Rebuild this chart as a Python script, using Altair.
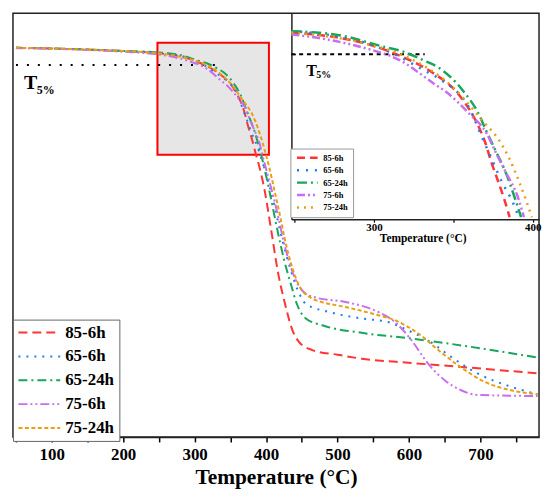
import altair as alt
import pandas as pd

# ---------------- data ----------------
series_names = ["85-6h", "65-6h", "65-24h", "75-6h", "75-24h"]
series_colors = ["#FF3535", "#1E7CF5", "#17A65B", "#C86EF0", "#E8A012"]

red_T = [50, 100, 150, 200, 248, 280, 298, 314, 326, 337, 354, 366, 370, 374, 378, 382, 385.5,
         388.4, 397.6, 406.9, 417, 425.4, 437, 446, 464.7, 500, 534, 603.6, 673, 780]
red_W = [99.8, 99.6, 99.3, 98.9, 98.3, 97.4, 96.4, 95.0, 93.7, 92.2, 88.7, 84.0, 81.7, 78.6, 75.9, 73.1, 70.3,
         68.3, 60.5, 49.4, 36.9, 29.4, 21.1, 17.9, 15.6, 14.3, 13.2, 12.0, 10.9, 9.1]

blue_T = [50, 100, 150, 200, 248, 295, 313, 332, 341, 362, 367.5, 372.8, 381.1, 387.4, 391.2,
          409, 423, 434.7, 445, 455.6, 488, 534, 571, 603.6, 626.8, 659, 696, 742.5, 780]
blue_W = [99.8, 99.6, 99.3, 98.9, 98.5, 96.7, 95.0, 92.5, 91.3, 85.9, 82.7, 79.9, 75.4, 72.6, 70.3,
          58.1, 46.1, 37.8, 32.0, 28.5, 26.2, 24.4, 23.4, 20.6, 18.3, 13.7, 9.1, 5.4, 3.3]

green_T = [50, 100, 150, 200, 248, 280, 305, 317, 332, 340.5, 356, 366.5, 370.7, 377, 383.3, 388.5, 392.7,
           404.6, 416, 425.4, 434.7, 443, 455.6, 478.6, 534, 603.6, 673, 780]
green_W = [99.8, 99.6, 99.3, 98.9, 98.5, 97.8, 96.2, 95.5, 94.0, 93.0, 89.5, 85.7, 83.4, 80.2, 76.9, 73.4, 70.3,
           60.0, 48.9, 40.6, 34.0, 28.5, 24.4, 22.5, 20.4, 18.8, 16.9, 13.5]

purple_T = [50, 100, 150, 200, 248, 269, 290, 317, 338, 345.4, 360, 371, 377, 383.3, 390.6, 394.5,
            413.9, 427.8, 443.9, 455.6, 470, 511, 557, 580.5, 603.6, 626.8, 650, 673, 696, 780]
purple_W = [99.7, 99.5, 99.2, 98.7, 98.0, 97.3, 96.2, 94.0, 90.5, 89.3, 86.0, 83.0, 80.0, 77.0, 73.4, 70.3,
            55.4, 43.3, 34.1, 31.3, 30.2, 29.0, 26.2, 23.4, 18.3, 11.8, 7.2, 4.4, 3.1, 2.8]

orange_T = [50, 100, 150, 200, 248, 293, 321.6, 349.7, 368.5, 379, 385.3, 391.6, 395.8, 399.5,
            416, 430, 445, 464.7, 474, 511, 557, 580.5, 613, 641, 668.5, 705.5, 742.5, 780]
orange_W = [99.8, 99.6, 99.3, 98.9, 98.3, 96.7, 94.5, 90.0, 84.9, 81.9, 79.2, 75.6, 72.9, 70.3,
            56.3, 43.3, 34.1, 29.9, 29.2, 27.6, 25.3, 23.9, 20.2, 15.6, 11.4, 6.8, 4.4, 3.3]

main_T_domain = [45.8, 782]
main_W_domain = [-8.6, 109.4]
zoom_T = [248, 404]          # zoomed region (red box / inset)
zoom_W = [70, 101.2]
t5_level = 95
t5_range = [50, 332]
main_ticks = list(range(50, 751, 50))
inset_ticks = [250, 300, 350, 400]
x_title = "Temperature (°C)"

# ---------------- layout constants ----------------
PW, PH = 529, 426             # plot area
INSET_X0 = 280                # inset left edge (px within plot)
INSET_H = 207                 # inset height (px from top)
FONT = "Liberation Serif"

rows = []
for name, ts, ws in zip(series_names,
                        [red_T, blue_T, green_T, purple_T, orange_T],
                        [red_W, blue_W, green_W, purple_W, orange_W]):
    for t, w in zip(ts, ws):
        rows.append({"series": name, "T": t, "W": w})
df = pd.DataFrame(rows)

box_df = pd.DataFrame({"T": [zoom_T[0]], "T2": [zoom_T[1]], "W": [zoom_W[0]], "W2": [zoom_W[1]]})
rule_main_df = pd.DataFrame({"T": [t5_range[0]], "T2": [t5_range[1]], "W": [t5_level]})
rule_inset_df = pd.DataFrame({"T": [max(t5_range[0], zoom_T[0])], "T2": [t5_range[1]], "W": [t5_level]})
lab_main_T = pd.DataFrame({"T": [61.1], "W": [88.35]})
lab_main_s = pd.DataFrame({"T": [79.2], "W": [86.96]})
lab_ins_T = pd.DataFrame({"T": [257.4], "W": [91.7]})
lab_ins_s = pd.DataFrame({"T": [263.7], "W": [91.36]})

dash_main = [[9, 5], [2, 6], [9, 4, 2, 4], [9, 3, 2, 3, 2, 3], [4, 2.5]]
dash_inset = [[8, 5], [2, 7], [10, 4, 2, 4], [8, 3, 2, 3, 2, 3], [2, 5]]

label_expr = "datum.value % 100 === 0 ? datum.label : ''"

# ---------------- main plot ----------------
x_main = alt.X("T:Q", title=x_title,
               scale=alt.Scale(domain=main_T_domain, nice=False, zero=False),
               axis=alt.Axis(values=main_ticks, labelExpr=label_expr, tickSize=5, tickWidth=1.5,
                             domainWidth=1.5, labelFontSize=17, labelPadding=18,
                             labelBaseline="alphabetic", titleFontSize=21.5,
                             titleBaseline="alphabetic", titleY=46.5, labelFlush=False,
                             labelOverlap=False, grid=False))
x2_main = alt.X2("T2")
y_main = alt.Y("W:Q", scale=alt.Scale(domain=main_W_domain, nice=False, zero=False), axis=None)
y2_main = alt.Y2("W2")

legend_main = alt.Legend(title=None, orient="none", legendX=0, legendY=308, symbolType="stroke",
                         symbolSize=1764, symbolStrokeWidth=2, clipHeight=17,
                         labelFont=FONT, labelFontSize=17,
                         labelFontWeight="bold", labelColor="black", labelOffset=4, rowPadding=6,
                         padding=4.5, strokeColor="#666666", fillColor="white", labelLimit=300)

box = alt.Chart(box_df).mark_rect(fill="#E6E6E6", stroke="#FF0000", strokeWidth=2).encode(
    x=x_main, x2=x2_main, y=y_main, y2=y2_main)
rule_main = alt.Chart(rule_main_df).mark_rule(color="black", strokeWidth=2, strokeDash=[2, 9]).encode(
    x=x_main, x2=x2_main, y=y_main)
txt_T = alt.Chart(lab_main_T).mark_text(text="T", font=FONT, fontSize=20, fontWeight="bold",
                                        align="left", baseline="alphabetic", color="black").encode(
    x=x_main, y=y_main)
txt_s = alt.Chart(lab_main_s).mark_text(text="5%", font=FONT, fontSize=12, fontWeight="bold",
                                        align="left", baseline="alphabetic", color="black").encode(
    x=x_main, y=y_main)
lines_main = alt.Chart(df).mark_line(strokeWidth=2, interpolate="monotone").encode(
    x=x_main, y=y_main,
    color=alt.Color("series:N", sort=series_names,
                    scale=alt.Scale(domain=series_names, range=series_colors), legend=legend_main),
    strokeDash=alt.StrokeDash("series:N", sort=series_names,
                              scale=alt.Scale(domain=series_names, range=dash_main), legend=legend_main),
)
main_layer = alt.layer(box, rule_main, txt_T, txt_s, lines_main)

# ---------------- inset ----------------
x_ins = alt.X("T:Q", title=x_title,
              scale=alt.Scale(domain=zoom_T, range=[INSET_X0, PW], nice=False, zero=False),
              axis=alt.Axis(orient="bottom", offset=-(PH - INSET_H), values=inset_ticks,
                            labelExpr=label_expr, tickSize=3, tickWidth=1.2, domainWidth=1.5,
                            labelFontSize=11, labelPadding=8, labelBaseline="alphabetic",
                            titleFontSize=11.5, titleBaseline="alphabetic", titleY=22, titleX=412,
                            labelFlush=False, labelOverlap=False, grid=False))
x2_ins = alt.X2("T2")
y_ins = alt.Y("W:Q", title=None,
              scale=alt.Scale(domain=zoom_W, range=[INSET_H, 0], nice=False, zero=False),
              axis=alt.Axis(orient="right", offset=INSET_X0 - PW, values=[t5_level], labels=False,
                            tickSize=4, tickWidth=1.2, domainWidth=1.5, grid=False))

legend_ins = alt.Legend(title=None, orient="none", legendX=279, legendY=136, symbolType="stroke",
                        symbolSize=430, symbolStrokeWidth=2.5, clipHeight=8.5,
                        labelFont=FONT, labelFontSize=8.5,
                        labelFontWeight="bold", labelColor="black", labelOffset=4, rowPadding=3.5,
                        padding=5, strokeColor="#999999", fillColor="white", labelLimit=200)

lines_ins = alt.Chart(df).mark_line(strokeWidth=2.5, interpolate="monotone").encode(
    x=x_ins, y=y_ins,
    color=alt.Color("series:N", sort=series_names,
                    scale=alt.Scale(domain=series_names, range=series_colors), legend=legend_ins),
    strokeDash=alt.StrokeDash("series:N", sort=series_names,
                              scale=alt.Scale(domain=series_names, range=dash_inset), legend=legend_ins),
).transform_filter(
    (alt.datum.T >= zoom_T[0]) & (alt.datum.T <= zoom_T[1]) & (alt.datum.W >= zoom_W[0])
)
rule_ins = alt.Chart(rule_inset_df).mark_rule(color="black", strokeWidth=2, strokeDash=[4, 3.8]).encode(
    x=x_ins, x2=x2_ins, y=y_ins)
itxt_T = alt.Chart(lab_ins_T).mark_text(text="T", font=FONT, fontSize=16, fontWeight="bold",
                                        align="left", baseline="alphabetic", color="black").encode(
    x=x_ins, y=y_ins)
itxt_s = alt.Chart(lab_ins_s).mark_text(text="5%", font=FONT, fontSize=10, fontWeight="bold",
                                        align="left", baseline="alphabetic", color="black").encode(
    x=x_ins, y=y_ins)
inset_layer = alt.layer(rule_ins, itxt_T, itxt_s, lines_ins)

chart = alt.layer(main_layer, inset_layer).resolve_scale(
    x="independent", y="independent", color="independent", strokeDash="independent"
).resolve_axis(
    x="independent", y="independent"
).resolve_legend(
    color="independent", strokeDash="independent"
).properties(
    width=PW, height=PH, padding={"left": 4, "top": 4, "right": 0, "bottom": 0}, background="white"
).configure_view(
    stroke="#222222", strokeWidth=1.5
).configure_axis(
    labelFont=FONT, titleFont=FONT, labelFontWeight="bold", titleFontWeight="bold",
    labelColor="black", titleColor="black", tickColor="black", domainColor="#222222"
)

chart.save("out.html", embed_options={"renderer": "svg", "actions": False})
